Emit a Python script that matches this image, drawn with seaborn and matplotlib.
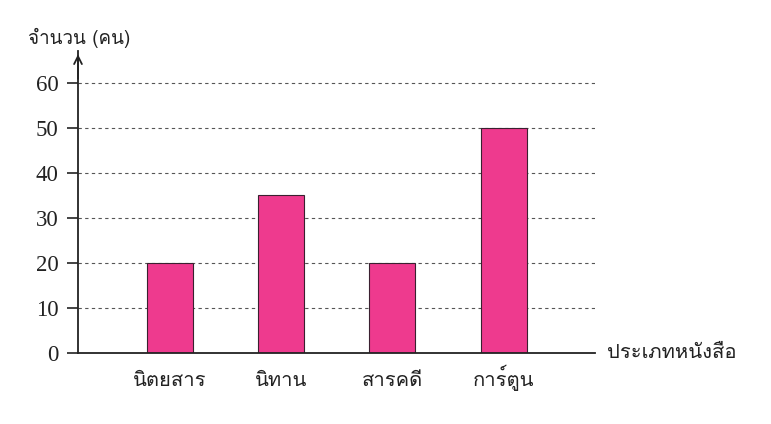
import matplotlib
matplotlib.use("Agg")
import matplotlib.pyplot as plt
from matplotlib import font_manager
from matplotlib.ft2font import FT2Font
import seaborn as sns
import pandas as pd

categories = ["นิตยสาร", "นิทาน", "สารคดี", "การ์ตูน"]
values = [20, 35, 20, 50]
yticks = [0, 10, 20, 30, 40, 50, 60]
ylabel = "จำนวน (คน)"
xlabel = "ประเภทหนังสือ"

# find a font that covers Thai
thai_family = None
for f in font_manager.fontManager.ttflist:
    try:
        cm = FT2Font(f.fname).get_charmap()
        if ord("ก") in cm and ord("ำ") in cm:
            thai_family = f.name
            break
    except Exception:
        pass

sns.set_style("white")
fams = ([thai_family] if thai_family else []) + ["DejaVu Sans"]
plt.rcParams["font.family"] = fams

df = pd.DataFrame({"cat": categories, "val": values})

fig = plt.figure(figsize=(7.71, 4.24), dpi=100)
ax = fig.add_axes([78 / 771, 71 / 424, (595 - 78) / 771, (353 - 51.5) / 424])

for y in yticks[1:]:
    ax.axhline(y, color="#555555", lw=0.8, ls=(0, (3, 3)), zorder=0)

sns.barplot(data=df, x="cat", y="val", color="#EE3A8E", saturation=1,
            width=0.413, edgecolor="#3a2030", linewidth=0.8, ax=ax, zorder=2)

ax.set_xlim(-0.823, 3.818)
ax.set_ylim(0, 67)
ax.set_yticks(yticks)
ax.set_yticklabels([str(v) for v in yticks], family="Liberation Serif", fontsize=16.5, color="#222222")
ax.tick_params(axis="y", direction="out", length=8, width=1.2, color="#222222", pad=6, left=True)
ax.tick_params(axis="x", length=0, pad=24, labelsize=14.5, labelcolor="#222222")
for lab in ax.get_xticklabels():
    lab.set_va("baseline")
ax.set_xlabel("")
ax.set_ylabel("")
for s in ["top", "right"]:
    ax.spines[s].set_visible(False)
ax.spines["left"].set_color("#222222")
ax.spines["bottom"].set_color("#222222")
ax.spines["left"].set_linewidth(1.3)
ax.spines["bottom"].set_linewidth(1.3)

ax.annotate("", xy=(0, 1.0), xycoords="axes fraction", xytext=(0, 0.9),
            arrowprops=dict(arrowstyle="->", color="#222222", lw=1.3, mutation_scale=14))

fig.text(28 / 771, 1 - 38 / 424, ylabel, fontsize=13.5, color="#222222", va="center", ha="left")
fig.text(607 / 771, 1 - 353 / 424, xlabel, fontsize=14.5, color="#222222", va="center", ha="left")

fig.savefig("out.png", dpi=100)
